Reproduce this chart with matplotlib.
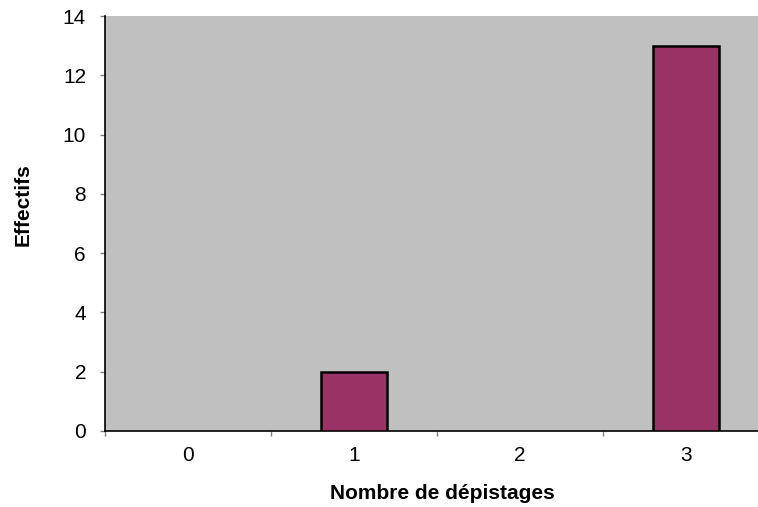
import matplotlib
matplotlib.use("Agg")
import matplotlib.pyplot as plt
import numpy as np

categories = ["0", "1", "2", "3"]
values = [0, 2, 0, 13]
yticks = [0, 2, 4, 6, 8, 10, 12, 14]

plt.rcParams['font.family'] = ['Liberation Sans', 'DejaVu Sans']

fig = plt.figure(figsize=(7.58, 5.07), dpi=100)
ax = fig.add_axes([105/758, 76/507, 664/758, 415/507])
ax.set_facecolor('#C0C0C0')

x = np.arange(len(categories))
lws = [1.8 if v != 0 else 0 for v in values]
ax.bar(x, values, width=0.4, color='#993366', edgecolor='black', linewidth=lws, zorder=3)

ax.set_xlim(-0.5, 3.5)
ax.set_ylim(0, 14)
ax.set_yticks(yticks)
ax.set_yticklabels([str(v) for v in yticks], fontsize=15)
ax.set_xticks(x)
ax.set_xticklabels(categories, fontsize=15)
ax.set_xticks(np.arange(-0.5, 3.6, 1), minor=True)
ax.tick_params(axis='x', which='major', length=0, pad=11)
ax.tick_params(axis='x', which='minor', length=3.6, color='#808080', width=1)
ax.tick_params(axis='y', which='major', length=3.6, color='#808080', width=1, pad=10)

for s in ['top', 'right']:
    ax.spines[s].set_visible(False)
ax.spines['left'].set_color('black')
ax.spines['bottom'].set_color('black')
ax.spines['left'].set_linewidth(1.2)
ax.spines['bottom'].set_linewidth(1.2)

fig.text(442/758, 1 - 499/507, "Nombre de dépistages", fontsize=15, fontweight='bold',
         ha='center', va='baseline')
fig.text(23/758, 1 - 205/507, "Effectifs", fontsize=15, fontweight='bold',
         ha='center', va='center', rotation=90)

fig.savefig("out.png", dpi=100)
